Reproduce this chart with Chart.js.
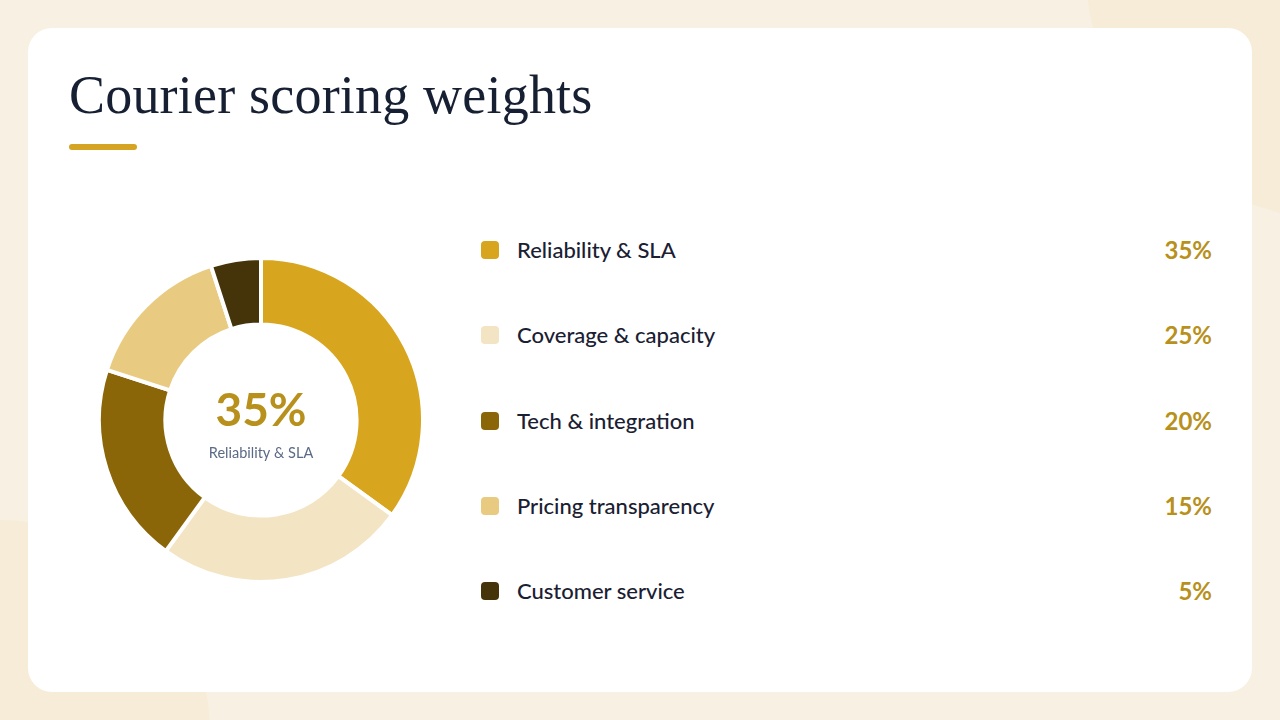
<!DOCTYPE html>
<html>
<head>
<meta charset="utf-8">
<script src="https://cdn.jsdelivr.net/npm/chart.js@4.4.1/dist/chart.umd.min.js"></script>
<style>
  html, body { margin: 0; padding: 0; }
  body {
    width: 1280px; height: 720px; overflow: hidden; position: relative;
    background: #f8f1e3;
    font-family: "Lato", "Noto Sans", sans-serif;
  }
  .blob { position: absolute; border-radius: 50%; }
  .blob.tr { left: 1085px; top: -420px; width: 640px; height: 640px; background: #f6ecd7; border-radius: 0 0 0 40%; }
  .blob.bl { left: -260px; top: 520px; width: 470px; height: 470px; background: #f6ecd8; border-radius: 0 45% 0 0; }
  .card {
    position: absolute; left: 28px; top: 28px; width: 1224px; height: 664px;
    background: #ffffff; border-radius: 24px;
  }
  h1 {
    position: absolute; left: 69px; top: 64px; margin: 0;
    font-family: "Liberation Serif", "DejaVu Serif", serif;
    font-weight: 400; font-size: 54px; color: #172033; letter-spacing: 0.2px;
  }
  .rule {
    position: absolute; left: 69px; top: 144px; width: 68px; height: 6px;
    border-radius: 3px; background: #d4a422;
  }
  #wrap { position: absolute; left: 97px; top: 256px; width: 328px; height: 328px; }
  .row { position: absolute; left: 481px; width: 731px; height: 30px; }
  .sw { position: absolute; left: 0; top: 6px; width: 18px; height: 18px; border-radius: 4px; }
  .lab { position: absolute; left: 36px; top: 1px; font-size: 22px; font-weight: 500; color: #1a2032; white-space: nowrap; }
  .val { position: absolute; right: 0; top: 0px; font-size: 24px; font-weight: 700; color: #b8901c; }
</style>
</head>
<body>
<div class="blob tr"></div>
<div class="blob bl"></div>
<div class="card"></div>
<h1>Courier scoring weights</h1>
<div class="rule"></div>
<div id="wrap"><canvas id="donut"></canvas></div>
<div id="legend"></div>
<script>
const categories = ['Reliability & SLA', 'Coverage & capacity', 'Tech & integration', 'Pricing transparency', 'Customer service'];
const weights = [35, 25, 20, 15, 5];
const colors = ['#d8a51f', '#f3e5c4', '#8a6608', '#e8cb81', '#45340a'];
const rowTops = [235, 320, 406, 491, 576];

// legend rows
const legend = document.getElementById('legend');
categories.forEach((c, i) => {
  const row = document.createElement('div');
  row.className = 'row';
  row.style.top = rowTops[i] + 'px';
  row.innerHTML = '<div class="sw" style="background:' + colors[i] + '"></div>' +
    '<div class="lab">' + c.replace('&', '&amp;') + '</div>' +
    '<div class="val">' + weights[i] + '%</div>';
  legend.appendChild(row);
});

const centerText = {
  id: 'centerText',
  afterDraw(chart) {
    const {ctx} = chart;
    const arc = chart.getDatasetMeta(0).data[0];
    if (!arc) return;
    ctx.save();
    ctx.textAlign = 'center';
    ctx.textBaseline = 'middle';
    ctx.fillStyle = '#b8901c';
    ctx.font = '700 46px Lato, "Noto Sans", sans-serif';
    ctx.fillText(weights[0] + '%', arc.x, arc.y - 9);
    ctx.fillStyle = '#5b6a86';
    ctx.font = '400 14.5px Lato, "Noto Sans", sans-serif';
    ctx.fillText(categories[0], arc.x, arc.y + 33);
    ctx.restore();
  }
};

new Chart(document.getElementById('donut'), {
  type: 'doughnut',
  data: {
    labels: categories,
    datasets: [{
      data: weights,
      backgroundColor: colors,
      borderColor: '#ffffff',
      borderWidth: 4,
      hoverOffset: 0
    }]
  },
  options: {
    responsive: true,
    maintainAspectRatio: false,
    animation: false,
    cutout: '59%',
    layout: { padding: 0 },
    plugins: {
      legend: { display: false },
      tooltip: { enabled: false }
    }
  },
  plugins: [centerText]
});
</script>
</body>
</html>
